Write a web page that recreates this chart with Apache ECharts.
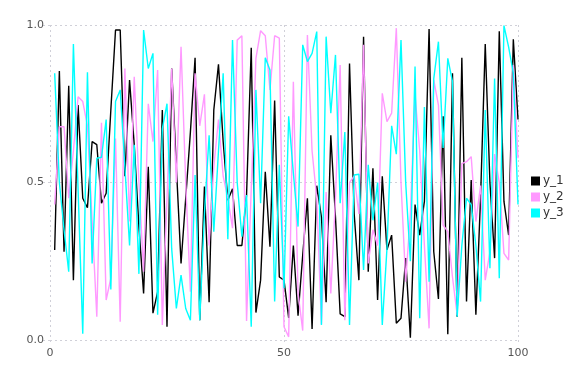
<!DOCTYPE html>
<html><head><meta charset="utf-8">
<script src="https://cdn.jsdelivr.net/npm/echarts@6/dist/echarts.min.js"></script>
<style>html,body{margin:0;padding:0;background:#fff}#c{width:576px;height:384px}</style>
</head><body><div id="c"></div>
<script>
const xValues = Array.from({length: 100}, (_, i) => i + 1);
const seriesNames = ["y_1", "y_2", "y_3"];
const y1 = [0.286,0.854,0.28,0.807,0.19,0.746,0.45,0.42,0.63,0.62,
0.434,0.466,0.73,0.984,0.984,0.52,0.825,0.62,0.36,0.148,
0.55,0.085,0.153,0.73,0.042,0.862,0.55,0.243,0.45,0.66,
0.896,0.063,0.487,0.12,0.73,0.875,0.63,0.444,0.48,0.30,
0.30,0.46,0.928,0.087,0.19,0.534,0.296,0.76,0.2,0.19,
0.07,0.30,0.077,0.27,0.45,0.035,0.49,0.39,0.12,0.65,
0.39,0.083,0.074,0.878,0.4,0.19,0.963,0.217,0.545,0.127,
0.52,0.286,0.333,0.053,0.069,0.26,0.007,0.43,0.333,0.44,
0.987,0.28,0.13,0.71,0.018,0.847,0.074,0.896,0.122,0.508,
0.08,0.45,0.94,0.5,0.26,0.98,0.44,0.333,0.955,0.70];
const y2 = [0.43,0.677,0.677,0.45,0.6,0.772,0.757,0.68,0.38,0.074,
0.69,0.127,0.196,0.64,0.058,0.862,0.376,0.836,0.5,0.217,
0.75,0.63,0.857,0.048,0.45,0.862,0.5,0.931,0.5,0.153,
0.847,0.68,0.78,0.30,0.55,0.70,0.52,0.45,0.355,0.952,
0.966,0.06,0.48,0.894,0.982,0.966,0.794,0.966,0.958,0.042,
0.01,0.82,0.15,0.03,0.968,0.6,0.45,0.05,0.47,0.148,
0.45,0.873,0.063,0.5,0.52,0.4,0.937,0.243,0.35,0.3,
0.783,0.693,0.72,0.99,0.5,0.185,0.4,0.778,0.6,0.3,
0.037,0.825,0.746,0.365,0.344,0.2,0.08,0.56,0.566,0.582,
0.376,0.49,0.19,0.28,0.59,0.5,0.275,0.254,0.873,0.577];
const y3 = [0.847,0.5,0.35,0.217,0.94,0.48,0.02,0.85,0.243,0.577,
0.58,0.70,0.16,0.757,0.794,0.55,0.30,0.62,0.21,0.984,
0.862,0.91,0.08,0.67,0.75,0.29,0.1,0.206,0.1,0.063,
0.524,0.063,0.4,0.65,0.344,0.6,0.847,0.32,0.952,0.5,
0.328,0.46,0.042,0.794,0.434,0.896,0.857,0.122,0.556,0.164,
0.71,0.53,0.36,0.937,0.884,0.91,0.979,0.048,0.963,0.72,
0.905,0.434,0.66,0.048,0.524,0.526,0.222,0.556,0.38,0.5,
0.048,0.29,0.68,0.59,0.952,0.5,0.25,0.868,0.069,0.74,
0.185,0.83,0.947,0.61,0.894,0.82,0.074,0.3,0.45,0.43,
0.3,0.122,0.73,0.228,0.83,0.196,0.998,0.93,0.847,0.43];
const colors = ["#000000", "#ff99ff", "#00ffff"];
const allY = [y1, y2, y3];

const chart = echarts.init(document.getElementById('c'), null, {renderer: 'canvas'});
const gridLine = {show: true, lineStyle: {color: '#d0d0d8', type: [2, 3], width: 1}};
chart.setOption({
  animation: false,
  backgroundColor: '#ffffff',
  grid: {left: 50, right: 58, top: 25, bottom: 44, containLabel: false},
  xAxis: {
    type: 'value', min: 0, max: 100, interval: 50,
    axisLine: {show: false},
    axisTick: {show: true, length: 5, lineStyle: {color: '#d0d0d8', type: [2, 3]}},
    splitLine: gridLine,
    axisLabel: {color: '#555', fontSize: 11, margin: 8, fontFamily: 'DejaVu Sans'}
  },
  yAxis: {
    type: 'value', min: 0, max: 1, interval: 0.5,
    axisLine: {show: false},
    axisTick: {show: true, length: 8, lineStyle: {color: '#d0d0d8', type: [2, 3]}},
    splitLine: gridLine,
    axisLabel: {color: '#555', fontSize: 11, margin: 6, fontFamily: 'DejaVu Sans',
      formatter: v => v.toFixed(1)}
  },
  legend: {
    orient: 'vertical', left: 526, top: 170, itemGap: 4,
    icon: 'rect', itemWidth: 9, itemHeight: 9,
    textStyle: {color: '#333', fontSize: 12, fontFamily: 'DejaVu Sans', padding: [0, 0, 0, -2]},
    data: seriesNames
  },
  series: seriesNames.map((name, k) => ({
    name: name, type: 'line', showSymbol: false, symbol: 'none',
    color: colors[k],
    lineStyle: {width: 1.4, color: colors[k]},
    data: xValues.map((x, i) => [x, allY[k][i]])
  }))
});
</script></body></html>
